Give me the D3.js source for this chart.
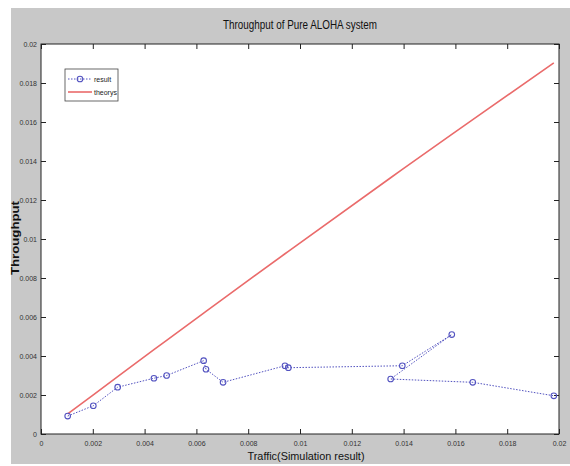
<!DOCTYPE html>
<html>
<head>
<meta charset="utf-8">
<script src="https://cdn.jsdelivr.net/npm/d3@7"></script>
<style>
  body { margin: 0; background: #fff; }
  text { font-family: "Liberation Sans", Arial, sans-serif; }
</style>
</head>
<body>
<svg id="canvas" width="570" height="466"></svg>
<script>
// simulation result, in the order the points were measured
const resultTraffic = [0.00103, 0.00202, 0.00296, 0.00436, 0.00485, 0.00628, 0.00637, 0.00703,
    0.00942, 0.00955, 0.01395, 0.01586, 0.0135, 0.01667, 0.0198];
const resultThroughput = [0.00092, 0.00145, 0.0024, 0.00286, 0.0030, 0.00376, 0.00332, 0.00265,
    0.0035, 0.0034, 0.0035, 0.0051, 0.00282, 0.00265, 0.00196];

// theory curve
const theoryTraffic = [0.00103, 0.00202, 0.00296, 0.00436, 0.00485, 0.00628, 0.00637, 0.00703,
    0.00942, 0.00955, 0.0135, 0.01395, 0.01586, 0.01667, 0.0198];
const theoryThroughput = [0.001028, 0.002012, 0.002942, 0.004322, 0.004803, 0.006201, 0.00629, 0.006932,
    0.009244, 0.009369, 0.01314, 0.013566, 0.015365, 0.016123, 0.019031];

const xTicks = [0, 0.002, 0.004, 0.006, 0.008, 0.01, 0.012, 0.014, 0.016, 0.018, 0.02];
const yTicks = [0, 0.002, 0.004, 0.006, 0.008, 0.01, 0.012, 0.014, 0.016, 0.018, 0.02];

const canvas = d3.select("#canvas");
const plotLeft = 41, plotRight = 559, plotTop = 44, plotBottom = 434;
const resultColor = "#5252c0", theoryColor = "#ea6b6b";

// grey figure background
canvas.append("rect").attr("x", 11).attr("y", 8).attr("width", 559).attr("height", 456)
    .attr("fill", "#c8c8c8");
canvas.append("rect").attr("x", plotLeft).attr("y", plotTop)
    .attr("width", plotRight - plotLeft).attr("height", plotBottom - plotTop).attr("fill", "#fff");

const x = d3.scaleLinear().domain([0, 0.02]).range([plotLeft, plotRight]);
const y = d3.scaleLinear().domain([0, 0.02]).range([plotBottom, plotTop]);
const fmt = (d) => (d === 0 ? "0" : String(+d.toFixed(3)));

const styleAxis = (g) => {
    g.select(".domain").remove();
    g.selectAll("line").attr("stroke", "#222");
    g.selectAll("text").attr("fill", "#333").style("font-size", "7px");
};

canvas.append("g").attr("transform", `translate(0,${plotBottom})`)
    .call(d3.axisBottom(x).tickValues(xTicks).tickFormat(fmt).tickSizeInner(-5).tickSizeOuter(0).tickPadding(7))
    .call(styleAxis);
canvas.append("g").attr("transform", `translate(0,${plotTop})`)
    .call(d3.axisTop(x).tickValues(xTicks).tickFormat("").tickSizeInner(-5).tickSizeOuter(0))
    .call(styleAxis);
canvas.append("g").attr("transform", `translate(${plotLeft},0)`)
    .call(d3.axisLeft(y).tickValues(yTicks).tickFormat(fmt).tickSizeInner(-5).tickSizeOuter(0).tickPadding(4))
    .call(styleAxis);
canvas.append("g").attr("transform", `translate(${plotRight},0)`)
    .call(d3.axisRight(y).tickValues(yTicks).tickFormat("").tickSizeInner(-5).tickSizeOuter(0))
    .call(styleAxis);

canvas.append("rect").attr("x", plotLeft).attr("y", plotTop)
    .attr("width", plotRight - plotLeft).attr("height", plotBottom - plotTop)
    .attr("fill", "none").attr("stroke", "#222").attr("stroke-width", 1);

// theory
const theory = theoryTraffic.map((t, i) => [t, theoryThroughput[i]]);
canvas.append("path").datum(theory)
    .attr("d", d3.line().x((d) => x(d[0])).y((d) => y(d[1])))
    .attr("fill", "none").attr("stroke", theoryColor).attr("stroke-width", 1.6);

// result
const result = resultTraffic.map((t, i) => [t, resultThroughput[i]]);
canvas.append("path").datum(result)
    .attr("d", d3.line().x((d) => x(d[0])).y((d) => y(d[1])))
    .attr("fill", "none").attr("stroke", resultColor).attr("stroke-width", 1)
    .attr("stroke-dasharray", "1.5,1.5");
canvas.selectAll(".marker").data(result).enter().append("circle")
    .attr("class", "marker")
    .attr("cx", (d) => x(d[0])).attr("cy", (d) => y(d[1])).attr("r", 2.8)
    .attr("fill", "none").attr("stroke", resultColor).attr("stroke-width", 1.1);

// title and labels (narrow, like the original)
canvas.append("text").attr("x", 300).attr("y", 29).attr("text-anchor", "middle")
    .attr("textLength", 154).attr("lengthAdjust", "spacingAndGlyphs")
    .style("font-size", "12px").attr("fill", "#111").text("Throughput of Pure ALOHA system");
canvas.append("text").attr("x", 306).attr("y", 460).attr("text-anchor", "middle")
    .attr("textLength", 117).attr("lengthAdjust", "spacingAndGlyphs")
    .style("font-size", "11px").attr("fill", "#111").text("Traffic(Simulation result)");
canvas.append("text").attr("transform", "translate(19,238) rotate(-90)").attr("text-anchor", "middle")
    .attr("textLength", 74).attr("lengthAdjust", "spacingAndGlyphs")
    .style("font-size", "11px").style("font-weight", "bold").attr("fill", "#111").text("Throughput");

// legend
const legend = canvas.append("g");
legend.append("rect").attr("x", 65).attr("y", 69).attr("width", 53).attr("height", 32)
    .attr("fill", "#fff").attr("stroke", "#444").attr("stroke-width", 0.8);
legend.append("line").attr("x1", 68).attr("x2", 92).attr("y1", 79).attr("y2", 79)
    .attr("stroke", resultColor).attr("stroke-dasharray", "1.5,1.5");
legend.append("circle").attr("cx", 80).attr("cy", 79).attr("r", 2.8)
    .attr("fill", "none").attr("stroke", resultColor).attr("stroke-width", 1.1);
legend.append("line").attr("x1", 68).attr("x2", 92).attr("y1", 92).attr("y2", 92)
    .attr("stroke", theoryColor).attr("stroke-width", 1.6);
legend.append("text").attr("x", 94).attr("y", 81.5).style("font-size", "7px").attr("fill", "#222").text("result");
legend.append("text").attr("x", 94).attr("y", 94.5).style("font-size", "7px").attr("fill", "#222").text("theorys");
</script>
</body>
</html>
